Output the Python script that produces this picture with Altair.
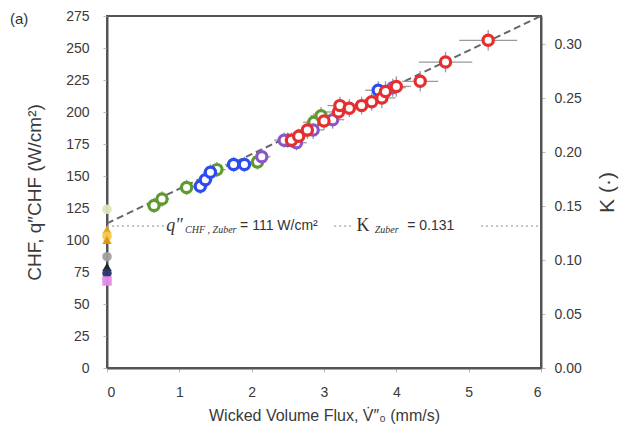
import altair as alt
import pandas as pd

# ---------------- data ----------------
# wicked samples, grouped by colour
green_x = [0.65, 0.76, 1.10, 1.52, 2.08, 2.86, 2.96]
green_y = [127, 132, 141, 155, 161, 192, 197]
green_xe = [0.10, 0.10, 0.10, 0.12, 0.12, 0.15, 0.15]
green_ye = [6, 6, 6, 6, 6, 7, 7]

blue_x = [1.29, 1.36, 1.43, 1.75, 1.90, 2.50, 3.75]
blue_y = [142, 147, 153, 159, 159, 178, 217]
blue_xe = [0.10, 0.10, 0.10, 0.12, 0.12, 0.15, 0.18]
blue_ye = [6, 6, 6, 6, 6, 6, 7]

purple_x = [2.14, 2.45, 2.62, 2.85, 3.12, 3.95]
purple_y = [165, 178, 176, 186, 194, 219]
purple_xe = [0.12, 0.14, 0.14, 0.15, 0.16, 0.18]
purple_ye = [6, 6, 6, 7, 7, 7]

red_x = [2.55, 2.65, 2.77, 3.00, 3.20, 3.22, 3.35, 3.52, 3.66, 3.80, 3.85, 4.00, 4.33, 4.68, 5.27]
red_y = [178, 181, 186, 193, 200, 205, 203, 205, 208, 211, 216, 220, 224, 239, 256]
red_xe = [0.14, 0.14, 0.15, 0.16, 0.17, 0.17, 0.17, 0.18, 0.18, 0.19, 0.19, 0.20, 0.25, 0.37, 0.40]
red_ye = [6, 6, 7, 7, 7, 7, 7, 7, 7, 8, 8, 8, 8, 8, 8]

# plain (non-wicked) surfaces at zero flux
zero_y = [124, 108, 103, 100, 87, 79, 74, 68]
zero_color = ["#dfe6b8", "#e8a317", "#f2c94c", "#e69500", "#a0a0a0", "#222222", "#27346e", "#e58ae6"]
zero_shape = ["circle", "triangle-up", "circle", "triangle-up", "circle", "triangle-up", "circle", "square"]

# linear fit and Zuber prediction
trend_x = [0, 6]
trend_y = [113, 275]
zuber_chf = 111
zuber_k = 0.131
zuber_gap_lo = [0.0, 3.14, 5.17]
zuber_gap_hi = [0.80, 3.40, 6.0]

y_ticks = [0, 25, 50, 75, 100, 125, 150, 175, 200, 225, 250, 275]
k_ticks = [0.0, 0.05, 0.10, 0.15, 0.20, 0.25, 0.30]
x_ticks = [0, 1, 2, 3, 4, 5, 6]

colors = {"green": "#5f9a2e", "blue": "#2b4cf0", "purple": "#8a57c9", "red": "#e62e2e"}

# ---------------- frames ----------------
rows = []
for name, xs, ys, xe, ye in [
    ("green", green_x, green_y, green_xe, green_ye),
    ("blue", blue_x, blue_y, blue_xe, blue_ye),
    ("purple", purple_x, purple_y, purple_xe, purple_ye),
    ("red", red_x, red_y, red_xe, red_ye),
]:
    for a, b, c, d in zip(xs, ys, xe, ye):
        rows.append({"x": a, "y": b, "xlo": a - c, "xhi": a + c,
                     "ylo": b - d, "yhi": b + d, "color": colors[name]})
pts = pd.DataFrame(rows)

zero = pd.DataFrame({"x": [0] * len(zero_y), "y": zero_y,
                     "color": zero_color, "shape": zero_shape})
trend = pd.DataFrame({"x": trend_x, "y": trend_y})
zub = pd.DataFrame({"x": zuber_gap_lo, "x2": zuber_gap_hi, "y": [zuber_chf] * 3})

FONT = "Liberation Sans"
xscale = alt.Scale(domain=[0, 6], nice=False)
yscale = alt.Scale(domain=[0, 275], nice=False)
xaxis = alt.Axis(values=x_ticks, title="Wicked Volume Flux, V\u0307\u2033\u2080 (mm/s)",
                 titleFontSize=16, titlePadding=8, labelPadding=13)
yaxis = alt.Axis(values=y_ticks, title="CHF, q\u2033CHF (W/cm²)",
                 titleFontSize=19, titleX=-73, titleY=176, titleAngle=270,
                 titleAlign="center", titleBaseline="middle", labelPadding=14)

def X(f="x"):
    return alt.X(f"{f}:Q", scale=xscale, axis=xaxis)

def Y(f="y"):
    return alt.Y(f"{f}:Q", scale=yscale, axis=yaxis)

trend_line = alt.Chart(trend).mark_line(color="#666666", strokeDash=[7, 4], strokeWidth=2).encode(x=X(), y=Y())

zuber_rule = alt.Chart(zub).mark_rule(color="#b0b0b0", strokeDash=[2, 3], strokeWidth=1.5).encode(
    x=X(), x2="x2:Q", y=Y())

herr = alt.Chart(pts).mark_rule(color="#9a9a9a", strokeWidth=1.3).encode(x=X("xlo"), x2="xhi:Q", y=Y())
verr = alt.Chart(pts).mark_rule(color="#9a9a9a", strokeWidth=1.3).encode(x=X(), y=Y("ylo"), y2="yhi:Q")

points = alt.Chart(pts).mark_point(shape="circle", filled=True, fill="white", size=105,
                                   strokeWidth=3.2, opacity=1).encode(
    x=X(), y=Y(), stroke=alt.Stroke("color:N", scale=None))

zero_pts = alt.Chart(zero).mark_point(filled=True, size=90, opacity=0.95).encode(
    x=X(), y=Y(), fill=alt.Fill("color:N", scale=None), shape=alt.Shape("shape:N", scale=None))

# annotation pieces
t_q = alt.Chart(pd.DataFrame({"x": [0.82], "y": [111], "t": ["q\u2033"]})).mark_text(
    font="Liberation Serif", fontStyle="italic", fontSize=18, align="left", baseline="middle", color="#333").encode(
    x=X(), y=Y(), text="t:N")
t_k = alt.Chart(pd.DataFrame({"x": [3.45], "y": [111], "t": ["K"]})).mark_text(
    font="Liberation Serif", fontSize=18, align="left", baseline="middle", color="#333").encode(
    x=X(), y=Y(), text="t:N")
t_sub = alt.Chart(pd.DataFrame({"x": [1.08, 3.70], "y": [107.5, 107.5], "t": ["CHF , Zuber", "Zuber"]})).mark_text(
    font="Liberation Serif", fontStyle="italic", fontSize=10, align="left", baseline="middle", color="#333").encode(
    x=X(), y=Y(), text="t:N")
t_eq = alt.Chart(pd.DataFrame({"x": [1.84, 4.15], "y": [111, 111], "t": ["= 111 W/cm²", "= 0.131"]})).mark_text(
    font=FONT, fontSize=14, align="left", baseline="middle", color="#333").encode(
    x=X(), y=Y(), text="t:N")

label_a = alt.Chart(pd.DataFrame({"t": ["(a)"]})).mark_text(
    font=FONT, fontSize=15, align="left", baseline="middle", color="#333").encode(
    x=alt.value(-97), y=alt.value(3), text="t:N")

left = alt.layer(trend_line, zuber_rule, herr, verr, points, zero_pts, t_q, t_k, t_sub, t_eq, label_a)

right = alt.Chart(pd.DataFrame({"x": [0], "k": [zuber_k]})).mark_point(opacity=0).encode(
    x=X(),
    y=alt.Y("k:Q", scale=alt.Scale(domain=[0, 0.326], nice=False),
            axis=alt.Axis(orient="right", values=k_ticks, format=".2f", title="K (·)",
                          titleFontSize=21, titleAngle=270, titleX=66, titleY=176,
                          titleAlign="center", titleBaseline="middle", labelPadding=9)))

chart = alt.layer(left, right).resolve_scale(y="independent").properties(
    width=434, height=352,
    autosize=alt.AutoSizeParams(type="none"),
    padding={"left": 107, "top": 16, "right": 78, "bottom": 62},
    background="white",
).configure_view(stroke="#555555", strokeWidth=2).configure_axis(
    labelFont=FONT, titleFont=FONT, labelFontSize=14, labelColor="#3a3a3a", titleColor="#3a3a3a",
    domainColor="#555555", domainWidth=2, tickColor="#bbbbbb", tickSize=4, grid=False,
    titleFontWeight="normal",
)

chart.save("out.html", embed_options={"renderer": "svg", "actions": False})
